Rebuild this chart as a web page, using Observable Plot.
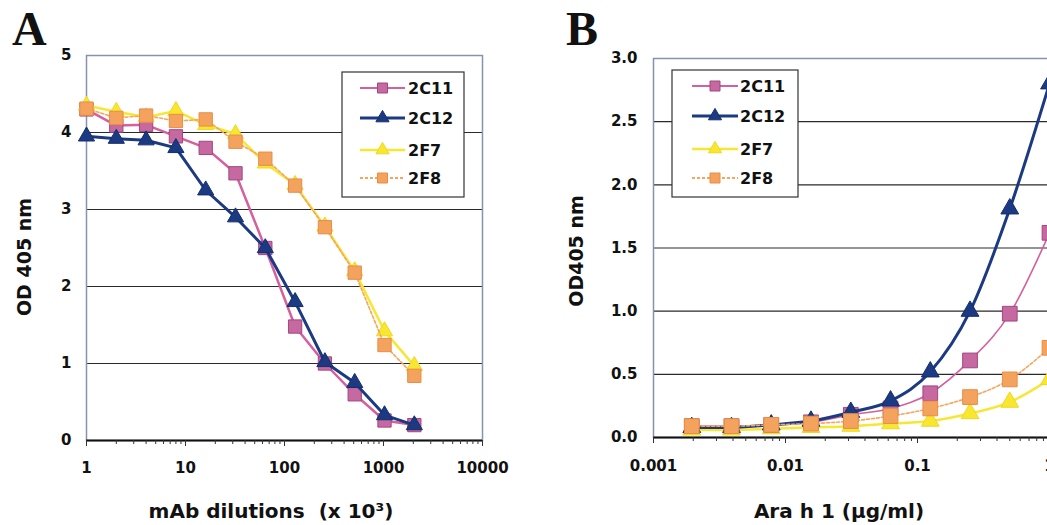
<!DOCTYPE html>
<html>
<head>
<meta charset="utf-8">
<script src="https://cdn.jsdelivr.net/npm/d3@7"></script>
<script src="https://cdn.jsdelivr.net/npm/@observablehq/plot@0.6"></script>
<style>
  html, body { margin: 0; padding: 0; background: #fff; }
  #root { position: relative; width: 1047px; height: 525px; overflow: hidden; background: #fff; }
  .panel { position: absolute; top: 0; }
  .panel svg { max-width: none !important; }
  #overlay { position: absolute; left: 0; top: 0; pointer-events: none; }
</style>
</head>
<body>
<div id="root">
  <div id="panelA" class="panel" style="left:0px;width:520px"></div>
  <div id="panelB" class="panel" style="left:530px;width:540px"></div>
</div>
<script>
// ---------- DATA ----------
const seriesNames = ["2C11", "2C12", "2F7", "2F8"];

// Panel A: mAb dilutions (x 10^3)
const dilutions = [1, 2, 4, 8, 16, 32, 64, 128, 256, 512, 1024, 2048];
const odA_2C11 = [4.30, 4.09, 4.10, 3.95, 3.80, 3.47, 2.50, 1.48, 1.00, 0.60, 0.26, 0.20];
const odA_2C12 = [3.95, 3.92, 3.90, 3.80, 3.25, 2.90, 2.50, 1.80, 1.02, 0.75, 0.33, 0.20];
const odA_2F7  = [4.35, 4.27, 4.20, 4.28, 4.10, 3.98, 3.60, 3.32, 2.78, 2.20, 1.42, 0.97];
const odA_2F8  = [4.31, 4.19, 4.22, 4.15, 4.17, 3.88, 3.66, 3.31, 2.77, 2.18, 1.24, 0.84];

// Panel B: Ara h 1 concentration (µg/ml)
const araConc = [0.00195, 0.0039, 0.0078, 0.0156, 0.03125, 0.0625, 0.125, 0.25, 0.5, 1];
const odB_2C11 = [0.09, 0.09, 0.10, 0.12, 0.18, 0.23, 0.35, 0.61, 0.98, 1.62];
const odB_2C12 = [0.08, 0.08, 0.10, 0.13, 0.20, 0.29, 0.52, 1.00, 1.81, 2.80];
const odB_2F7  = [0.06, 0.06, 0.07, 0.08, 0.09, 0.11, 0.13, 0.19, 0.28, 0.46];
const odB_2F8  = [0.09, 0.09, 0.10, 0.11, 0.13, 0.17, 0.23, 0.32, 0.46, 0.71];

// Tick labels
const yTicksA = [0, 1, 2, 3, 4, 5];
const xTicksA = [1, 10, 100, 1000, 10000];
const yTicksB = [0, 0.5, 1, 1.5, 2, 2.5, 3];
const xTicksB = [0.001, 0.01, 0.1, 1];

// Texts
const titleYA = "OD 405 nm";
const titleXA = "mAb dilutions  (x 10³)";
const titleYB = "OD405 nm";
const titleXB = "Ara h 1 (μg/ml)";

// ---------- STYLES ----------
const colors = { "2C11": "#d4609e", "2C12": "#1b3a82", "2F7": "#f7e733", "2F8": "#f5a65c" };
const markFill = { "2C11": "#c569a0", "2C12": "#1b3a82", "2F7": "#f8e630", "2F8": "#f3a35e" };
const markStroke = { "2C11": "#a24682", "2C12": "#142e6c", "2F7": "#eed820", "2F8": "#e98d44" };
const symbols = { "2C11": "square", "2C12": "triangle", "2F7": "triangle", "2F8": "square" };
const widthA = { "2C11": 2.5, "2C12": 3, "2F7": 2.5, "2F8": 1.6 };
const widthB = { "2C11": 1.6, "2C12": 3, "2F7": 2.5, "2F8": 1.6 };
const dash = { "2C11": null, "2C12": null, "2F7": null, "2F8": "3,2" };
const orderA = ["2C11", "2C12", "2F7", "2F8"];
const orderB = ["2F7", "2C11", "2C12", "2F8"];

const odA = { "2C11": odA_2C11, "2C12": odA_2C12, "2F7": odA_2F7, "2F8": odA_2F8 };
const odB = { "2C11": odB_2C11, "2C12": odB_2C12, "2F7": odB_2F7, "2F8": odB_2F8 };

function rows(xs, ys) { return xs.map((x, i) => ({ x, y: ys[i] })); }
function minorLogTicks(lo, hi) {
  const out = [];
  for (let e = Math.round(Math.log10(lo)); e < Math.round(Math.log10(hi)); e++)
    for (let k = 2; k <= 9; k++) out.push(k * Math.pow(10, e));
  return out;
}

function seriesMarks(xs, table, order, widths, rSquare, rTri, curve) {
  const marks = [];
  for (const s of order) {
    const data = rows(xs, table[s]);
    marks.push(Plot.line(data, {
      x: "x", y: "y", stroke: colors[s], strokeWidth: widths[s],
      strokeDasharray: dash[s], curve
    }));
    marks.push(Plot.dot(data, {
      x: "x", y: "y", symbol: symbols[s],
      r: symbols[s] === "square" ? rSquare : rTri,
      fill: markFill[s], stroke: markStroke[s], strokeWidth: 1, fillOpacity: 1
    }));
  }
  return marks;
}

const commonStyle = {
  fontFamily: "DejaVu Sans", fontWeight: "bold", fontSize: "15px",
  color: "#111", background: "transparent", overflow: "visible", maxWidth: "none"
};

// ---------- PANEL A ----------
const plotA = Plot.plot({
  width: 520, height: 525,
  marginLeft: 86, marginRight: 38, marginTop: 55, marginBottom: 85,
  x: { type: "log", domain: [1, 10000], label: null },
  y: { domain: [0, 5], label: null },
  style: commonStyle,
  marks: [
    Plot.gridY([1, 2, 3, 4], { stroke: "#2a2a2a", strokeOpacity: 1, strokeWidth: 1.2 }),
    Plot.frame({ stroke: "#8792b0", strokeWidth: 1.5 }),
    Plot.ruleY([0], { stroke: "#111", strokeWidth: 2 }),
    Plot.axisY(yTicksA, { tickSize: 0, tickPadding: 15, tickFormat: d => String(d), label: null }),
    Plot.axisX(minorLogTicks(1, 10000), { tickSize: 4, tickFormat: () => "", label: null, stroke: "#333" }),
    Plot.axisX(xTicksA, { tickSize: 6, tickPadding: 16, tickFormat: d => String(d), label: null, stroke: "#333" }),
    ...seriesMarks(dilutions, odA, orderA, widthA, 7.5, 6, "linear")
  ]
});
document.getElementById("panelA").appendChild(plotA);

// ---------- PANEL B ----------
const plotB = Plot.plot({
  width: 540, height: 525,
  marginLeft: 123, marginRight: 21, marginTop: 58, marginBottom: 88,
  x: { type: "log", domain: [0.001, 1], label: null },
  y: { domain: [0, 3], label: null },
  style: commonStyle,
  marks: [
    Plot.gridY([0.5, 1, 1.5, 2, 2.5], { stroke: "#2a2a2a", strokeOpacity: 1, strokeWidth: 1.2 }),
    Plot.frame({ stroke: "#8792b0", strokeWidth: 1.5 }),
    Plot.ruleY([0], { stroke: "#111", strokeWidth: 2 }),
    Plot.axisY(yTicksB, { tickSize: 0, tickPadding: 16, tickFormat: d3.format(".1f"), label: null }),
    Plot.axisX(minorLogTicks(0.001, 1), { tickSize: 4, tickFormat: () => "", label: null, stroke: "#333" }),
    Plot.axisX(xTicksB, { tickSize: 6, tickPadding: 17, tickFormat: d => String(d), label: null, stroke: "#333" }),
    ...seriesMarks(araConc, odB, orderB, widthB, 8.3, 6.6, "monotone-x")
  ]
});
document.getElementById("panelB").appendChild(plotB);

// ---------- OVERLAY: panel letters, axis titles, legends ----------
const svg = d3.select("#root").append("svg")
  .attr("id", "overlay").attr("width", 1047).attr("height", 525)
  .style("font-family", "DejaVu Sans").style("font-weight", "bold").style("fill", "#111");

svg.append("text").attr("x", 12).attr("y", 45)
  .style("font-family", "Liberation Serif").style("font-size", "48px").style("font-weight", "bold")
  .text("A");
svg.append("text").attr("x", 566).attr("y", 45)
  .style("font-family", "Liberation Serif").style("font-size", "48px").style("font-weight", "bold")
  .text("B");

function yTitle(cx, cy, txt) {
  svg.append("text").attr("transform", `translate(${cx},${cy}) rotate(-90)`)
    .attr("text-anchor", "middle").attr("dominant-baseline", "central")
    .style("font-size", "19px").style("white-space", "pre").text(txt);
}
function xTitle(cx, cy, txt) {
  svg.append("text").attr("x", cx).attr("y", cy)
    .attr("text-anchor", "middle").attr("dominant-baseline", "central")
    .style("font-size", "20px").style("white-space", "pre").text(txt);
}
yTitle(24, 257, titleYA);
xTitle(271, 511, titleXA);
yTitle(576, 251, titleYB);
xTitle(839, 511, titleXB);

function legend(box, rowsY, lineX0, lineX1, textX) {
  const g = svg.append("g");
  g.append("rect").attr("x", box[0]).attr("y", box[1])
    .attr("width", box[2] - box[0]).attr("height", box[3] - box[1])
    .attr("fill", "#fff").attr("stroke", "#333").attr("stroke-width", 1.2);
  seriesNames.forEach((s, i) => {
    const y = rowsY[i];
    g.append("line").attr("x1", lineX0).attr("x2", lineX1).attr("y1", y).attr("y2", y)
      .attr("stroke", colors[s]).attr("stroke-width", s === "2C12" ? 3 : (s === "2F7" ? 2.5 : 1.8))
      .attr("stroke-dasharray", dash[s]);
    const sym = symbols[s] === "square" ? d3.symbolSquare : d3.symbolTriangle;
    const size = symbols[s] === "square" ? 100 : 75;
    g.append("path").attr("d", d3.symbol(sym, size)())
      .attr("transform", `translate(${(lineX0 + lineX1) / 2},${y})`)
      .attr("fill", markFill[s]).attr("stroke", markStroke[s]).attr("stroke-width", 1);
    g.append("text").attr("x", textX).attr("y", y).attr("dominant-baseline", "central")
      .style("font-size", "16px").text(s);
  });
}
legend([342, 72, 464, 197], [88, 118, 150, 178], 360, 405, 408);
legend([672, 70, 798, 197], [86, 116, 149, 178], 692, 738, 740);
</script>
</body>
</html>
